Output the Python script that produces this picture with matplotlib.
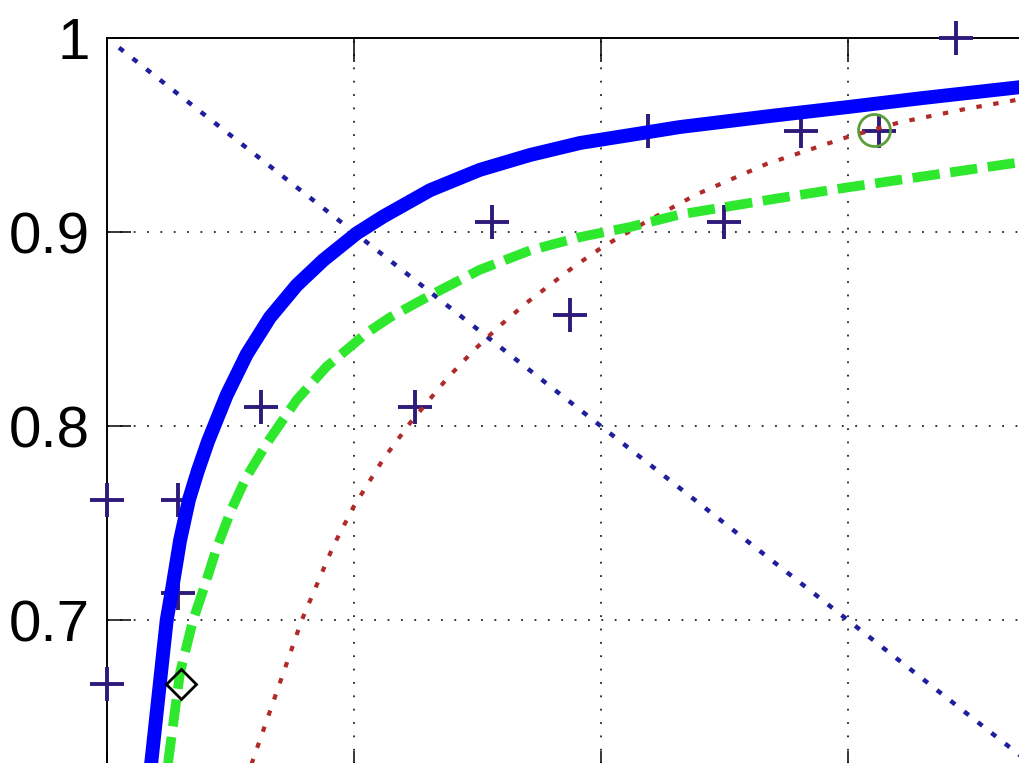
import matplotlib
matplotlib.use('Agg')
import matplotlib.pyplot as plt

plt.rcParams['font.family'] = ['Liberation Sans', 'DejaVu Sans']

# solid blue curve
blue_x = [0.016, 0.018, 0.0243, 0.0263, 0.0297, 0.0333, 0.0368, 0.041, 0.0486, 0.0567, 0.0661,
          0.0769, 0.0877, 0.1012, 0.112, 0.131, 0.151, 0.1714, 0.1917, 0.212, 0.232, 0.2443,
          0.27, 0.30, 0.33, 0.37, 0.40]
blue_y = [0.600, 0.626, 0.700, 0.7146, 0.741, 0.762, 0.7765, 0.792, 0.816, 0.837, 0.856,
          0.8725, 0.8855, 0.8993, 0.908, 0.9216, 0.932, 0.9397, 0.9459, 0.950, 0.9541, 0.956,
          0.960, 0.9644, 0.969, 0.9747, 0.9785]

# dashed green curve
green_x = [0.023, 0.025, 0.0297, 0.035, 0.0395, 0.0445, 0.0505, 0.0567, 0.0653, 0.0769, 0.089,
           0.1053, 0.1147, 0.124, 0.132, 0.151, 0.1714, 0.1917, 0.212, 0.232, 0.27, 0.30, 0.37, 0.40]
green_y = [0.600, 0.628, 0.673, 0.700, 0.717, 0.737, 0.757, 0.774, 0.792, 0.8134, 0.8306,
           0.848, 0.856, 0.8625, 0.868, 0.8805, 0.8905, 0.8974, 0.9026, 0.909, 0.917, 0.923, 0.936, 0.940]

# dotted red curve
red_x = [0.052, 0.0587, 0.079, 0.0917, 0.0998, 0.112, 0.1228, 0.1378, 0.1486, 0.159, 0.170, 0.189,
         0.201, 0.2187, 0.239, 0.267, 0.30, 0.321, 0.348, 0.368, 0.40]
red_y = [0.600, 0.626, 0.700, 0.738, 0.758, 0.783, 0.8015, 0.8245, 0.839, 0.8515, 0.8635, 0.882,
         0.8925, 0.9055, 0.9195, 0.935, 0.949, 0.9565, 0.9635, 0.968, 0.9735]

# diagonal reference line
diag_x = [0.005, 1.0]
diag_y = [0.995, 0.0]

# plus points
pts_x = [0.0, 0.029, 0.0, 0.029, 0.0625, 0.125, 0.156, 0.1875, 0.219, 0.25, 0.281, 0.3125, 0.344]
pts_y = [0.762, 0.762, 0.667, 0.714, 0.810, 0.810, 0.905, 0.857, 0.952, 0.905, 0.952, 0.952, 1.0]

# single markers
diamond_x, diamond_y = [0.030], [0.667]
circle_x, circle_y = [0.3105], [0.9526]

yticks = [0.7, 0.8, 0.9, 1.0]
ytick_labels = ['0.7', '0.8', '0.9', '1']
xticks = [0.0, 0.1, 0.2, 0.3, 0.4]

fig = plt.figure(figsize=(10.2, 7.63), dpi=100)
# axes runs past the right and bottom edge of the picture
ax = fig.add_axes([106.7 / 1020, 1 - 775.2 / 763, 988 / 1020, 737.2 / 763])

ax.plot(pts_x, pts_y, linestyle='none', marker='+', markersize=24, markeredgewidth=2.8,
        color='#2e1a7a', clip_on=False, zorder=3)
ax.plot(diag_x, diag_y, color='#1f1f9e', linewidth=3.2, linestyle=(0, (1.3, 2.6)), zorder=4)
ax.plot(red_x, red_y, color='#b02a2a', linewidth=3.0, linestyle=(0, (1.3, 2.8)), zorder=4)
ax.plot(green_x, green_y, color='#2ee82e', linewidth=7, linestyle=(0, (2.8, 1.1)), zorder=5)
ax.plot(blue_x, blue_y, color='#0000ff', linewidth=10, solid_capstyle='butt', zorder=6)
ax.plot(diamond_x, diamond_y, linestyle='none', marker='D', markersize=15, markeredgewidth=2,
        markerfacecolor='none', markeredgecolor='black', zorder=7)
ax.plot(circle_x, circle_y, linestyle='none', marker='o', markersize=23, markeredgewidth=2,
        markerfacecolor='none', markeredgecolor='#5a9e3c', zorder=7)

ax.set_xlim(0, 0.4)
ax.set_ylim(0.62, 1.0)
ax.set_xticks(xticks)
ax.set_yticks(yticks)
ax.set_yticklabels(ytick_labels)
ax.grid(True, color='#222222', linewidth=1.3, linestyle=(0, (1, 6.4)))
ax.tick_params(direction='in', length=17, width=1.1, top=True, right=True,
               labelsize=42, pad=12, labelbottom=False)
for s in ax.spines.values():
    s.set_linewidth(1.4)

fig.savefig('out.png', dpi=100)
